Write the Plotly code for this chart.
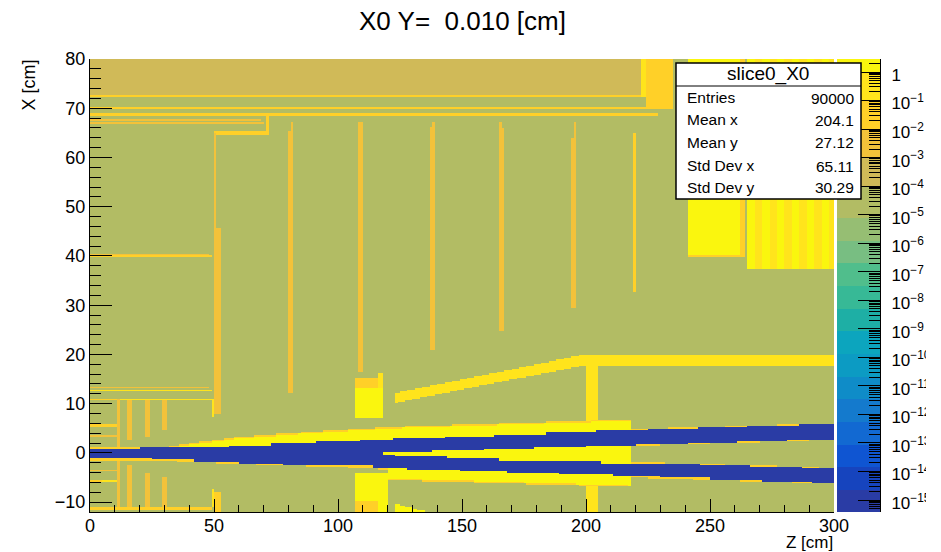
import numpy as np
import plotly.graph_objects as go

# ---- histogram binning (300 x 300 = 90000 entries) ----
N_BINS = 300
Z_RANGE = [0, 300]
X_RANGE = [-12, 80]

# ---- palette bands: log10(value) edges and colours, bottom to top ----
BAND_EDGES = [-15.42, -14.65, -13.85, -13.07, -12.27, -11.46, -10.69, -9.88, -9.08, -8.31,
              -7.50, -6.69, -5.91, -5.12, -4.0, -3.0, -2.0, -1.0, 0.0, 0.456]
BAND_COLORS = ["rgb(42,60,165)", "rgb(22,68,190)", "rgb(15,85,210)", "rgb(18,105,210)",
               "rgb(20,122,205)", "rgb(15,140,200)", "rgb(12,155,195)", "rgb(12,165,190)",
               "rgb(30,175,165)", "rgb(55,185,150)", "rgb(80,190,140)", "rgb(120,190,130)",
               "rgb(150,190,115)", "rgb(178,188,100)", "rgb(208,186,88)", "rgb(243,194,58)",
               "rgb(255,208,40)", "rgb(255,228,28)", "rgb(250,246,14)"]

# ---- material values, log10 of X0 fraction ----
VOID = -15.2
BASE = -4.5
TAN = -3.5
ORANGE = -2.5
GOLD = -1.5
LEMON = -0.5
YELLOW = 0.2

# ---- detector boxes: z0, z1, x0, x1, value (painted in order) ----
BOXES = [
    (0, 222, 72.4, 80, TAN), (0, 222, 72.2, 72.5, GOLD), (222, 224, 72.2, 80, LEMON),
    (224, 235, 70, 80, GOLD), (0, 224.6, 69.9, 70.2, GOLD), (0, 229.5, 68.5, 68.9, GOLD),
    (0, 69, 67.4, 67.7, ORANGE), (0, 70.5, 66.8, 67.1, ORANGE),
    (70.7, 71.6, 65, 68.7, GOLD), (50, 71.6, 64.8, 65.2, GOLD),
    (50, 50.9, 7.9, 65, ORANGE), (50, 52.8, 7.9, 45.7, ORANGE),
    (80.9, 81.7, 12.2, 67, ORANGE), (80, 81.7, 12.2, 65.2, ORANGE),
    (108.5, 109.7, 16.4, 67, ORANGE), (107.8, 109.7, 16.4, 66.2, ORANGE),
    (137.8, 138.7, 20.7, 67, ORANGE), (136.8, 138.7, 20.7, 66.1, ORANGE),
    (164.8, 165.7, 24.8, 67, ORANGE), (164.8, 166.8, 24.8, 65.8, ORANGE),
    (194.8, 195.7, 29.3, 67, ORANGE), (193.7, 195.7, 29.3, 64, ORANGE),
    (218.7, 219.8, 32.8, 65, GOLD),
    (0, 48, 40.2, 40.5, ORANGE), (0, 48.8, 39.8, 40.1, GOLD),
    (0, 47.6, 13.1, 13.4, ORANGE), (0, 48.8, 12.4, 12.8, LEMON),
    (0, 12, 10.8, 11.1, GOLD), (12, 50, 10.8, 11.1, LEMON), (48.9, 49.7, 7.2, 11, LEMON),
    (11, 11.8, -11.6, 10.9, ORANGE),
    (14.8, 16.8, 2.6, 10.8, ORANGE), (22, 23.7, 3.4, 10.8, ORANGE), (28.8, 30.8, 4.7, 10.8, ORANGE),
    (14.8, 16.8, -11.6, -2.6, ORANGE), (22, 23.7, -11.6, -3.9, ORANGE), (28.8, 30.8, -11.6, -5.1, ORANGE),
    (0, 11, 5.3, 5.9, GOLD), (0, 11, 3.3, 3.7, ORANGE), (0, 11, -3.8, -3.5, ORANGE),
    (0, 5, -6.0, -5.7, GOLD), (5, 11, -6.0, -5.7, LEMON),
    (0, 49, -11.6, -11.2, GOLD), (48.9, 49.7, -11.2, -7.5, LEMON), (50, 52.8, -12, -8.1, GOLD),
    (0, 36, 0.75, 1.2, GOLD), (0, 25, -1.35, -1, GOLD),
    (107, 118.5, 13.2, 15.2, GOLD), (116.5, 118.5, 6.9, 16.3, LEMON), (107, 118.5, 6.9, 13.2, YELLOW),
    (107, 119.6, -12, -3.9, YELLOW), (107, 116.5, -12, -10, GOLD),
    (199.6, 204.7, 6.5, 17.9, LEMON), (199.6, 204.7, -12, -6.6, LEMON),
    (199.6, 300, 17.9, 20, LEMON),
    (240.7, 261.7, 40, 80, YELLOW), (261.7, 263.7, 40, 80, GOLD), (240.7, 263.7, 39.7, 40, GOLD),
]

# ---- sloped yellow cone support: z, lower x, upper x ----
CONE_Z = [123, 199.6]
CONE_LOW = [10.1, 17.9]
CONE_HIGH = [12.2, 20.0]
# ---- small wedge near the bottom edge ----
FOOT_Z = [122.7, 136]
FOOT_TOP = [-10.4, -12]

# ---- yellow envelope of the beam pipe ----
ENV_TOP_Z = [36, 60, 100, 125, 217.7]
ENV_TOP_X = [1.4, 3.0, 4.3, 5.0, 6.5]
ENV_LOW_Z = [119.6, 217.7]
ENV_LOW_X = [-5.2, -6.64]

# ---- beam pipe edges: step end in z and x value ----
TOP_Z = [20, 38, 56, 73, 91, 109, 119, 121.6, 142.5, 162.6, 183.5, 203.6, 224.5, 244.6, 264.8, 285.6, 300]
TOP_X = [.75, 1.15, 1.28, 1.62, 1.97, 2.3, 2.64, 2.84, 3.11, 3.45, 3.79, 4.12, 4.46, 4.8, 5.07, 5.34, 5.68]
INNER_UP_Z = [137.8, 158.6, 178.8, 199.6, 220.4, 240.6, 260.8, 280.9, 300]
INNER_UP_X = [.4, .6, .94, 1.28, 1.62, 1.89, 2.23, 2.5, 2.84]
INNER_DN_Z = [123, 143.8, 164.7, 185.5, 205.6, 224.5, 246, 266.1, 287, 300]
INNER_DN_X = [-.41, -.75, -1.09, -1.43, -1.7, -2.04, -2.3, -2.58, -2.91, -3.19]
BOT_Z = [25, 42, 60, 78, 95.6, 114, 127.7, 148.5, 168, 188.9, 211, 229.8, 250, 270.8, 291, 300]
BOT_X = [-1, -1.42, -1.76, -2.1, -2.44, -2.64, -3.12, -3.46, -3.79, -4.13, -4.47, -4.74, -5.08, -5.42, -5.76, -6.03]
SPLIT_Z = 118.5
ENV_END_Z = 217.7

# ---- striped block behind the stats box ----
STRIPE_Z = [264.8, 300]
STRIPE_X = [37.4, 80]
STRIPE_STEP = 3

# ---- texts ----
TITLE = "X0 Y=\u00a0\u00a00.010 [cm]"
X_TITLE = "Z [cm]"
Y_TITLE = "X [cm]"
STAT_NAME = "slice0_X0"
STAT_LABELS = ["Entries", "Mean x", "Mean y", "Std Dev x", "Std Dev y"]
STAT_VALUES = ["90000", "204.1", "27.12", "65.11", "30.29"]
DECADES = list(range(-15, 1))


def step(zc, ends, vals):
    idx = np.clip(np.searchsorted(ends, zc), 0, len(vals) - 1)
    return np.asarray(vals)[idx]


dz = (Z_RANGE[1] - Z_RANGE[0]) / N_BINS
dx = (X_RANGE[1] - X_RANGE[0]) / N_BINS
zc = Z_RANGE[0] + dz * (np.arange(N_BINS) + .5)
xc = X_RANGE[0] + dx * (np.arange(N_BINS) + .5)
ZZ, XX = np.meshgrid(zc, xc)
H = np.full(ZZ.shape, BASE, dtype=float)

for z0, z1, x0, x1, v in BOXES:
    H[(ZZ >= z0) & (ZZ < z1) & (XX >= x0) & (XX < x1)] = v

in_stripe = (ZZ >= STRIPE_Z[0]) & (XX >= STRIPE_X[0])
H[in_stripe] = YELLOW
stripe_col = ((ZZ - STRIPE_Z[0]) // STRIPE_STEP) % 2 == 1
H[in_stripe & stripe_col] = LEMON

m = (ZZ >= CONE_Z[0]) & (ZZ < CONE_Z[1])
H[m & (XX >= np.interp(ZZ, CONE_Z, CONE_LOW)) & (XX < np.interp(ZZ, CONE_Z, CONE_HIGH))] = LEMON
m = (ZZ >= FOOT_Z[0]) & (ZZ < FOOT_Z[1])
H[m & (XX < np.interp(ZZ, FOOT_Z, FOOT_TOP))] = YELLOW

top = step(ZZ, TOP_Z, TOP_X)
bot = step(ZZ, BOT_Z, BOT_X)
in_up = step(ZZ, INNER_UP_Z, INNER_UP_X)
in_dn = step(ZZ, INNER_DN_Z, INNER_DN_X)
env_t = np.interp(ZZ, ENV_TOP_Z, ENV_TOP_X)
env_b = np.interp(ZZ, ENV_LOW_Z, ENV_LOW_X)
split = ZZ >= SPLIT_Z

# gold slivers left between the stepped pipe and its true sloped surface
rim_top = np.interp(ZZ, TOP_Z[:-1], TOP_X[1:]) + .1
rim_bot = np.interp(ZZ, BOT_Z[:-1], BOT_X[1:]) - .1
H[(XX >= top) & (XX < rim_top)] = GOLD
H[(XX < bot) & (XX >= rim_bot)] = GOLD
# envelope
m = (ZZ >= ENV_TOP_Z[0]) & (ZZ < ENV_END_Z)
H[m & (XX >= top) & (XX < env_t + .3)] = GOLD
H[m & (XX >= top) & (XX < env_t)] = YELLOW
m = (ZZ >= ENV_LOW_Z[0]) & (ZZ < ENV_END_Z)
H[m & (XX < bot) & (XX >= env_b - .3)] = GOLD
H[m & (XX < bot) & (XX >= env_b)] = YELLOW
# pipe, then the gap between its two branches
H[(XX >= bot) & (XX < top)] = VOID
gap = split & (XX >= in_dn) & (XX < in_up)
H[gap] = BASE
H[gap & (XX >= np.interp(ZZ, INNER_UP_Z, INNER_UP_X) - .1)] = GOLD
H[gap & (XX < np.interp(ZZ, INNER_DN_Z, INNER_DN_X) + .1)] = GOLD
H[gap & (ZZ < ENV_END_Z)] = YELLOW

# ---- stepped colour scale over the bands ----
lo, hi = BAND_EDGES[0], BAND_EDGES[-1]
scale = []
for i, col in enumerate(BAND_COLORS):
    scale.append([(BAND_EDGES[i] - lo) / (hi - lo), col])
    scale.append([(BAND_EDGES[i + 1] - lo) / (hi - lo), col])

W, HT = 941, 552


def px(v):
    return v / W


def py(v):
    return 1 - v / HT


FONT = "Liberation Sans"
fig = go.Figure()
fig.add_trace(go.Heatmap(z=H, x0=zc[0], dx=dz, y0=xc[0], dy=dx, coloraxis="coloraxis",
                         hoverinfo="skip", xaxis="x", yaxis="y"))
mids = [[(BAND_EDGES[i] + BAND_EDGES[i + 1]) / 2] for i in range(len(BAND_COLORS))]
fig.add_trace(go.Heatmap(z=mids, x=[0, 1], y=BAND_EDGES, coloraxis="coloraxis",
                         hoverinfo="skip", xaxis="x2", yaxis="y2"))

minor_vals = [d + np.log10(k) for d in DECADES[:-1] for k in range(2, 10)]
minor_vals += [-16 + np.log10(k) for k in range(2, 10) if -16 + np.log10(k) > lo]
minor_vals += [np.log10(k) for k in range(2, 10) if np.log10(k) < hi]
tick_text = ["1" if d == 0 else "10<sup>\u2212%d</sup>" % -d for d in DECADES]

fig.update_layout(
    width=W, height=HT, margin=dict(l=0, r=0, t=0, b=0, autoexpand=False),
    paper_bgcolor="white", plot_bgcolor="white", showlegend=False,
    font=dict(family=FONT, color="black", size=18),
    coloraxis=dict(cmin=lo, cmax=hi, colorscale=scale, showscale=False),
    xaxis=dict(domain=[px(90), px(834)], range=Z_RANGE, tickvals=list(range(0, 301, 50)),
               ticks="inside", ticklen=13, tickwidth=1, tickcolor="black", showgrid=False, zeroline=False,
               showline=True, linecolor="black", linewidth=1, layer="above traces", ticklabelstandoff=-3,
               minor=dict(ticks="inside", ticklen=7, tickwidth=1, tickcolor="black",
                          tickvals=list(range(0, 301, 10)), showgrid=False),
               tickfont=dict(size=18, family=FONT), anchor="y"),
    yaxis=dict(domain=[py(512), py(59)], range=X_RANGE, tickvals=list(range(-10, 81, 10)),
               ticks="inside", ticklen=22, tickwidth=1, tickcolor="black", showgrid=False, zeroline=False,
               showline=True, linecolor="black", linewidth=1, layer="above traces",
               minor=dict(ticks="inside", ticklen=11, tickwidth=1, tickcolor="black",
                          tickvals=list(range(-12, 81, 2)), showgrid=False),
               tickfont=dict(size=18, family=FONT), anchor="x"),
    xaxis2=dict(domain=[px(837), px(880)], range=[0, 1], showticklabels=False, ticks="",
                showgrid=False, zeroline=False, anchor="y2"),
    yaxis2=dict(domain=[py(512), py(59)], range=[lo, hi], side="right", anchor="x2",
                tickvals=DECADES, ticktext=tick_text, ticks="inside", ticklen=22, tickwidth=1,
                tickcolor="black", showgrid=False, zeroline=False, showline=True,
                linecolor="black", linewidth=1, layer="above traces", ticklabelstandoff=7,
                ticklabelshift=3,
                minor=dict(ticks="inside", ticklen=11, tickwidth=1, tickcolor="black",
                           tickvals=minor_vals, showgrid=False),
                tickfont=dict(size=17, family=FONT)),
)

shapes = [
    dict(type="rect", xref="paper", yref="paper", x0=px(676), x1=px(861), y0=py(199), y1=py(63),
         fillcolor="white", line=dict(color="black", width=1.5), layer="above"),
    dict(type="line", xref="paper", yref="paper", x0=px(676), x1=px(861), y0=py(86), y1=py(86),
         line=dict(color="black", width=1), layer="above"),
    dict(type="rect", xref="paper", yref="paper", x0=px(926), x1=1, y0=0, y1=1,
         fillcolor="white", line=dict(width=0), layer="above"),
]
fig.update_layout(shapes=shapes)

ann = [
    dict(text=TITLE, x=px(462), y=py(21), xanchor="center", yanchor="middle", font=dict(size=26)),
    dict(text=X_TITLE, x=px(834), y=py(542), xanchor="right", yanchor="middle", font=dict(size=17)),
    dict(text=Y_TITLE, x=px(28), y=py(59), xanchor="center", yanchor="top", textangle=-90, font=dict(size=18)),
    dict(text=STAT_NAME, x=px(768), y=py(74), xanchor="center", yanchor="middle", font=dict(size=19)),
]
row_y = [97, 120, 142, 165, 187]
for lab, val, yy in zip(STAT_LABELS, STAT_VALUES, row_y):
    ann.append(dict(text=lab, x=px(686), y=py(yy), xanchor="left", yanchor="middle", font=dict(size=15.5)))
    ann.append(dict(text=val, x=px(855), y=py(yy + 1), xanchor="right", yanchor="middle", font=dict(size=15.5)))
for a in ann:
    a.update(xref="paper", yref="paper", showarrow=False, borderpad=0)
fig.update_layout(annotations=ann)

fig.write_html("out.html", config={"displayModeBar": False},
               post_script="document.body.style.margin='0';")
